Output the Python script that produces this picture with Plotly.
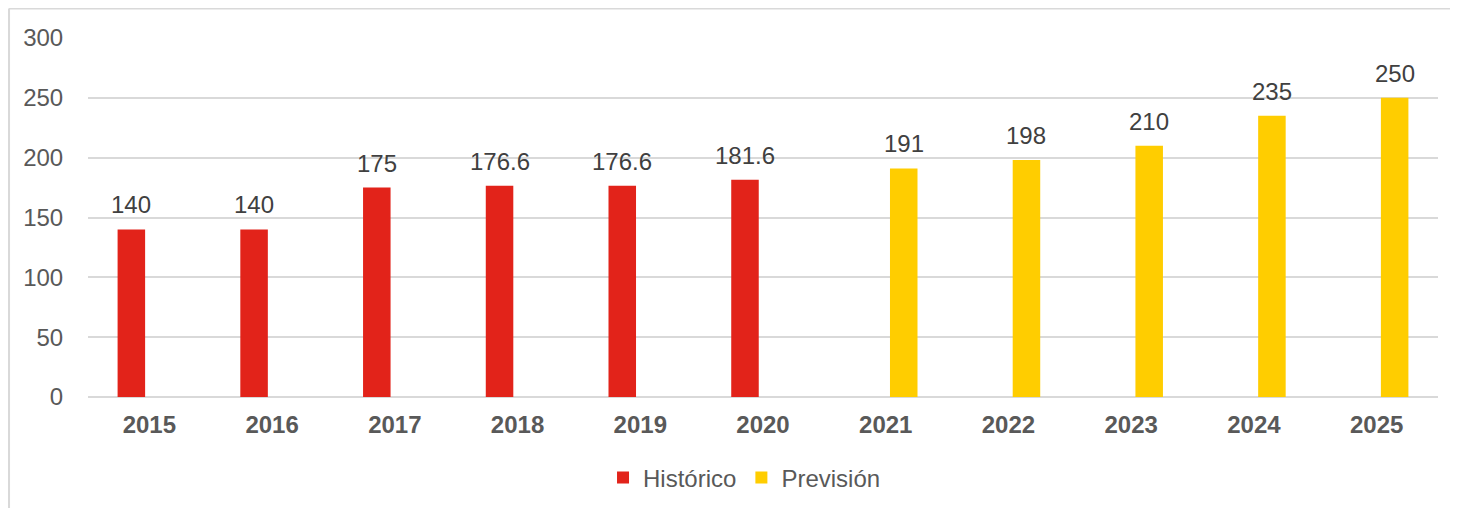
import plotly.graph_objects as go

years = ["2015", "2016", "2017", "2018", "2019", "2020", "2021", "2022", "2023", "2024", "2025"]
historico = [140, 140, 175, 176.6, 176.6, 181.6, None, None, None, None, None]
prevision = [None, None, None, None, None, None, 191, 198, 210, 235, 250]
y_ticks = [0, 50, 100, 150, 200, 250, 300]

RED = "#E2231A"
YELLOW = "#FFCD00"
FONT = "Liberation Sans, Arial, sans-serif"
FS = 24

fig = go.Figure()
fig.add_trace(go.Bar(x=years, y=historico, name="Histórico", marker_color=RED, marker_line_width=0))
fig.add_trace(go.Bar(x=years, y=prevision, name="Previsión", marker_color=YELLOW, marker_line_width=0))

def fmt(v):
    return f"{v:g}"

annotations = []
for series, shift in ((historico, -18), (prevision, 18)):
    for i, v in enumerate(series):
        if v is None:
            continue
        annotations.append(dict(
            x=i, y=v, xref="x", yref="y", text=fmt(v), showarrow=False,
            xshift=shift, yanchor="bottom", yshift=9,
            font=dict(family=FONT, size=FS, color="#404040"),
        ))

# page body has an 8px margin, so the figure is sized to fill the remaining window
fig.update_layout(
    width=1450, height=500,
    margin=dict(l=80, r=20, t=30, b=111, autoexpand=False),
    paper_bgcolor="white", plot_bgcolor="white",
    barmode="group", bargap=0.413, bargroupgap=0.236,
    font=dict(family=FONT, size=FS, color="#595959"),
    annotations=annotations,
    showlegend=True,
    legend=dict(orientation="h", x=0.3815, xanchor="left", y=-0.2256, yanchor="middle",
                font=dict(family=FONT, size=FS, color="#595959"),
                itemwidth=30, traceorder="normal", bgcolor="rgba(0,0,0,0)"),
    shapes=[
        dict(type="line", xref="paper", yref="paper", x0=-0.0585, x1=1.02, y0=1.0822, y1=1.0822,
             line=dict(color="#D9D9D9", width=2)),
        dict(type="line", xref="paper", yref="paper", x0=-0.0585, x1=-0.0585, y0=1.0822, y1=-0.35,
             line=dict(color="#D9D9D9", width=2)),
    ],
)
fig.update_xaxes(
    type="category", range=[-0.5, len(years) - 0.5],
    showgrid=False, zeroline=False, showline=False,
    ticks="outside", ticklen=6, tickcolor="rgba(0,0,0,0)",
    tickfont=dict(family=FONT, size=FS, color="#595959", weight="bold"),
)
fig.update_yaxes(
    range=[0, 300], tickvals=y_ticks, showgrid=True, gridcolor="#D9D9D9", gridwidth=2,
    zeroline=True, zerolinecolor="#D9D9D9", zerolinewidth=2, showline=False,
    ticks="outside", ticklen=19, tickcolor="rgba(0,0,0,0)",
    tickfont=dict(family=FONT, size=FS, color="#595959"),
)

fig.write_html("out.html")
